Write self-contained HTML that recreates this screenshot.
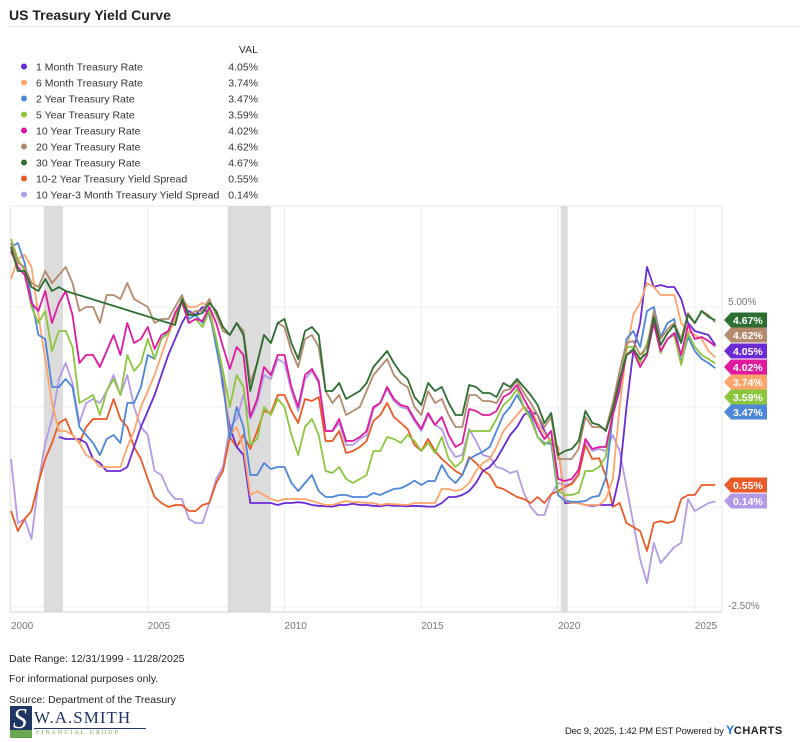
<!DOCTYPE html>
<html><head><meta charset="utf-8"><style>
body{margin:0;background:#fff;font-family:"Liberation Sans",sans-serif;}
#wrap{position:relative;width:800px;height:742px;overflow:hidden;background:#fff;}
.t{position:absolute;white-space:nowrap;color:#222;}
</style></head><body>
<div id="wrap">
<div class="t" style="left:9px;top:7px;font-size:14px;font-weight:bold;">US Treasury Yield Curve</div>
<div style="position:absolute;left:9px;top:26px;width:791px;height:1px;background:#e6e6e6"></div>
<svg id="chart" width="800" height="742" style="position:absolute;left:0;top:0"></svg>
<div class="t" style="left:9px;top:653px;font-size:10.5px;">Date Range: 12/31/1999 - 11/28/2025</div>
<div class="t" style="left:9px;top:673px;font-size:10.5px;">For informational purposes only.</div>
<div class="t" style="left:9px;top:694px;font-size:10.5px;">Source: Department of the Treasury</div>
<div style="position:absolute;left:10px;top:706px;width:136px;height:32px">
 <div style="position:absolute;left:0;top:0;width:22px;height:30px;background:#1f3563"></div>
 <div style="position:absolute;left:0;top:24px;width:22px;height:8px;background:#6aa84f"></div>
 <div class="t" style="left:3px;top:-2px;font-family:'Liberation Serif',serif;font-size:28px;color:#fff;font-style:italic">S</div>
 <div class="t" style="left:24px;top:2px;font-family:'Liberation Serif',serif;font-size:17px;color:#1f3563;letter-spacing:1px">W.A.SMITH</div>
 <div style="position:absolute;left:24px;top:22px;width:112px;height:1px;background:#1f3563"></div>
 <div class="t" style="left:26px;top:24px;font-family:'Liberation Serif',serif;font-size:6px;color:#6aa84f;letter-spacing:2px">FINANCIAL GROUP</div>
</div>
<div class="t" style="left:565px;top:723px;font-size:9.5px;letter-spacing:-0.2px">Dec 9, 2025, 1:42 PM EST Powered by <b style="color:#1a73e8;font-size:12px">Y</b><b style="font-size:11px;letter-spacing:0.5px;color:#222">CHARTS</b></div>
</div>
<script>
const names=["1 Month Treasury Rate","6 Month Treasury Rate","2 Year Treasury Rate","5 Year Treasury Rate","10 Year Treasury Rate","20 Year Treasury Rate","30 Year Treasury Rate","10-2 Year Treasury Yield Spread","10 Year-3 Month Treasury Yield Spread"];
const colors=["#6a2bd6","#ffa46a","#4e86d8","#8cc63f","#e0199f","#b48a6e","#2d6e33","#ea5a26","#b39ae6"];
const latest=[4.05,3.74,3.47,3.59,4.02,4.62,4.67,0.55,0.14];
const yTicks=[5.0,-2.5];
const xTickYears=[2000,2005,2010,2015,2020,2025];
const recessions=[[2001.2,2001.9],[2007.92,2009.5],[2020.1,2020.35]];
const startYear=2000;
const m1=[null,null,null,null, null,null,null,1.75, 1.7,1.7,1.7,1.6, 1.2,1.1,0.9,0.9, 0.9,1.0,1.5,2.0, 2.4,2.8,3.3,3.8, 4.2,4.6,4.9,4.8, 5.0,4.8,4.2,3.0, 2.0,1.5,1.3,0.1, 0.1,0.1,0.1,0.05, 0.1,0.1,0.12,0.1, 0.05,0.03,0.02,0.01, 0.05,0.05,0.08,0.05, 0.05,0.03,0.02,0.05, 0.03,0.03,0.02,0.03, 0.02,0.01,0.01,0.1, 0.25,0.25,0.3,0.4, 0.6,0.9,1.0,1.2, 1.5,1.8,2.0,2.3, 2.4,2.3,1.9,1.6, 1.5,0.1,0.1,0.1, 0.05,0.03,0.05,0.05, 0.05,0.8,2.5,3.9, 4.6,6.0,5.5,5.55, 5.5,5.5,5.2,4.6, 4.4,4.35,4.3,4.05];
const m6=[5.7,6.2,6.3,6.0, 4.8,3.7,2.6,1.9, 1.9,1.8,1.6,1.3, 1.2,1.0,1.0,1.0, 1.0,1.5,1.9,2.5, 2.9,3.3,3.8,4.3, 4.7,5.2,5.0,5.0, 5.1,5.0,4.2,3.3, 1.8,2.0,1.5,0.3, 0.4,0.3,0.2,0.15, 0.2,0.2,0.2,0.2, 0.15,0.1,0.05,0.05, 0.1,0.15,0.12,0.12, 0.1,0.1,0.05,0.08, 0.07,0.06,0.05,0.1, 0.1,0.1,0.1,0.45, 0.45,0.4,0.45,0.6, 0.9,1.1,1.2,1.5, 1.9,2.1,2.3,2.5, 2.45,2.1,1.85,1.6, 1.5,0.15,0.1,0.09, 0.05,0.05,0.05,0.2, 0.7,2.5,3.9,4.8, 5.1,5.6,5.5,5.3, 5.3,5.3,4.6,4.4, 4.3,4.2,3.9,3.74];
const y2=[6.5,6.6,6.1,5.2, 4.3,4.2,3.0,3.0, 3.2,3.0,2.0,1.8, 1.6,1.3,1.7,1.8, 1.6,2.6,2.6,3.0, 3.8,3.7,4.2,4.4, 4.8,5.1,4.7,4.8, 4.6,4.9,4.0,3.1, 1.7,2.5,2.0,0.8, 0.8,1.1,0.95,1.0, 1.0,0.6,0.4,0.6, 0.8,0.4,0.25,0.25, 0.3,0.3,0.25,0.25, 0.25,0.35,0.3,0.38, 0.45,0.47,0.55,0.66, 0.55,0.65,0.65,1.05, 0.75,0.6,0.8,1.2, 1.3,1.38,1.5,1.9, 2.3,2.5,2.8,2.5, 2.3,1.75,1.6,1.58, 0.3,0.16,0.13,0.13, 0.15,0.25,0.28,0.73, 2.3,2.9,4.2,4.4, 4.0,4.9,5.0,4.25, 4.6,4.7,3.6,4.25, 3.9,3.7,3.6,3.47];
const y5=[6.7,6.2,5.9,5.0, 4.6,4.9,3.9,4.4, 4.4,4.0,2.6,2.7, 2.8,2.3,2.9,3.2, 2.8,3.8,3.4,3.6, 4.2,3.7,4.2,4.35, 4.8,5.1,4.6,4.7, 4.5,4.9,4.2,3.4, 2.5,3.3,3.0,1.55, 1.7,2.5,2.3,2.7, 2.5,1.8,1.3,2.0, 2.2,1.8,0.9,0.85, 1.0,0.7,0.6,0.7, 0.8,1.4,1.4,1.75, 1.7,1.6,1.8,1.65, 1.4,1.6,1.35,1.75, 1.2,1.0,1.15,1.9, 1.9,1.9,1.9,2.2, 2.55,2.7,2.95,2.5, 2.2,1.75,1.55,1.7, 0.4,0.3,0.3,0.36, 0.9,0.9,1.0,1.26, 2.4,3.0,4.0,4.0, 3.6,4.1,4.6,3.85, 4.2,4.3,3.55,4.35, 4.0,3.8,3.7,3.59];
const y10=[6.4,6.0,5.8,5.1, 4.9,5.4,4.6,5.1, 5.4,4.8,3.6,3.8, 3.8,3.5,3.9,4.3, 3.8,4.6,4.1,4.2, 4.5,3.95,4.3,4.4, 4.85,5.15,4.6,4.7, 4.65,5.0,4.6,4.0, 3.45,4.0,3.8,2.25, 2.7,3.5,3.3,3.8, 3.8,3.0,2.5,3.3, 3.45,3.15,1.9,1.9, 2.2,1.65,1.65,1.75, 1.9,2.5,2.6,3.0, 2.7,2.55,2.5,2.2, 1.95,2.35,2.05,2.25, 1.8,1.5,1.6,2.45, 2.4,2.3,2.3,2.4, 2.75,2.85,3.05,2.7, 2.4,2.0,1.7,1.9, 0.7,0.65,0.7,0.93, 1.7,1.45,1.5,1.5, 2.3,3.0,3.8,3.9, 3.5,3.8,4.6,3.9, 4.2,4.35,3.8,4.55, 4.2,4.25,4.15,4.02];
const y20=[6.6,6.1,6.0,5.6, 5.5,5.9,5.6,5.8, 6.0,5.6,4.9,5.0, 5.0,4.6,5.3,5.3, 5.2,5.6,5.2,5.1, 5.0,4.6,4.7,4.7, 5.0,5.3,4.8,4.9, 4.9,5.2,4.8,4.4, 4.3,4.6,4.4,3.1, 3.6,4.3,4.1,4.6, 4.5,3.9,3.5,4.2, 4.3,4.0,2.9,2.6, 2.8,2.3,2.4,2.5, 2.9,3.3,3.5,3.7, 3.3,3.1,3.0,2.5, 2.3,2.9,2.6,2.7, 2.3,2.0,2.0,2.8, 2.8,2.65,2.65,2.6, 2.9,2.95,3.15,2.85, 2.6,2.3,2.0,2.25, 1.2,1.2,1.2,1.45, 2.25,2.0,2.0,1.95, 2.6,3.4,4.1,4.15, 3.8,4.0,4.9,4.2, 4.45,4.6,4.2,4.85, 4.6,4.9,4.8,4.62];
const y30=[6.5,5.9,5.9,5.5, 5.4,5.7,5.4,5.5, 5.4,null,null,null, null,null,null,null, null,null,null,null, null,null,null,null, 4.55,5.2,4.8,4.8, 4.85,5.1,4.9,4.5, 4.3,4.6,4.3,2.9, 3.6,4.3,4.1,4.6, 4.7,4.1,3.7,4.4, 4.5,4.3,2.9,2.9, 3.1,2.7,2.8,2.9, 3.1,3.5,3.7,3.9, 3.6,3.35,3.2,2.75, 2.55,3.1,2.9,3.0, 2.6,2.3,2.3,3.05, 3.0,2.85,2.85,2.75, 3.1,3.0,3.2,3.0, 2.8,2.55,2.1,2.35, 1.3,1.4,1.45,1.65, 2.4,2.1,2.05,1.9, 2.45,3.2,3.8,3.95, 3.7,3.85,4.75,4.05, 4.35,4.55,4.1,4.8, 4.6,4.9,4.75,4.67];
const s102=[-0.1,-0.6,-0.3,-0.1, 0.6,1.2,1.6,2.1, 2.2,1.8,1.6,2.0, 2.2,2.2,2.2,2.7, 2.2,2.0,1.5,1.2, 0.7,0.25,0.1,0.0, 0.05,0.05,-0.1,-0.1, 0.05,0.1,0.6,0.9, 1.75,1.5,1.8,1.45, 1.9,2.4,2.35,2.8, 2.8,2.4,2.1,2.7, 2.65,2.75,1.65,1.65, 1.9,1.35,1.4,1.5, 1.65,2.15,2.3,2.6, 2.25,2.1,1.95,1.55, 1.4,1.7,1.4,1.2, 1.05,0.9,0.8,1.25, 1.1,0.92,0.8,0.5, 0.45,0.35,0.25,0.2, 0.1,0.25,0.1,0.32, 0.4,0.5,0.57,0.8, 1.55,1.2,1.22,0.77, 0.0,0.1,-0.4,-0.5, -0.6,-1.1,-0.4,-0.35, -0.4,-0.35,0.2,0.3, 0.3,0.55,0.55,0.55];
const s103m=[1.2,-0.4,-0.3,-0.8, 0.6,1.6,2.2,3.2, 3.6,3.1,2.1,2.6, 2.7,2.6,2.9,3.3, 2.8,3.3,2.5,2.0, 1.8,0.9,0.8,0.4, 0.2,0.2,-0.3,-0.4, -0.4,0.1,0.7,1.0, 2.0,2.2,2.8,2.2, 2.6,3.3,3.2,3.7, 3.6,2.9,2.4,3.2, 3.4,3.1,1.9,1.9, 2.1,1.55,1.55,1.7, 1.8,2.45,2.6,2.95, 2.65,2.5,2.45,2.15, 1.9,2.3,2.05,1.95, 1.5,1.25,1.3,1.95, 1.65,1.3,1.25,1.0, 0.95,0.85,0.9,0.35, 0.0,-0.2,-0.2,0.3, 0.6,0.55,0.6,0.85, 1.65,1.4,1.45,1.4, 1.8,1.4,0.5,-0.4, -1.3,-1.9,-0.9,-1.4, -1.2,-1.0,-0.9,0.2, -0.1,0.0,0.1,0.14];
const series=[m1,m6,y2,y5,y10,y20,y30,s102,s103m];

const NS="http://www.w3.org/2000/svg";
const svg=document.getElementById('chart');
function mk(tag,attrs,parent){const e=document.createElementNS(NS,tag);for(const k in attrs)e.setAttribute(k,attrs[k]);(parent||svg).appendChild(e);return e;}
const P={l:10,r:722,t:206,b:612};
const xMin=2000,xMax=2025.92,xL=11,xR=720;
function X(t){return xL+(t-xMin)/(xMax-xMin)*(xR-xL);}
function Y(v){return 507-v*40;}

const frame=mk('rect',{x:P.l,y:P.t,width:P.r-P.l,height:P.b-P.t,fill:'#fff',stroke:'#e8e8e8'});


[5,2.5,0,-2.5].forEach(v=>{const g=mk('line',{x1:P.l,x2:P.r,y1:Y(v),y2:Y(v),stroke:'#ececec'});

});
xTickYears.forEach(yr=>{const x=X(yr);
const g=mk('line',{x1:x,x2:x,y1:P.t,y2:P.b,stroke:'#ececec'});


const tx=mk('text',{x:x,y:P.b+17,'font-size':10,fill:'#777','font-family':'Liberation Sans, sans-serif'});tx.textContent=yr;

});
recessions.forEach(r=>{const b=mk('rect',{x:X(r[0]),y:P.t,width:X(r[1])-X(r[0]),height:P.b-P.t,fill:'#dcdcdc'});

});
yTicks.forEach(v=>{const tx=mk('text',{x:728,y:Y(v)+(v<0?2:-2),'font-size':10,fill:'#777','font-family':'Liberation Sans, sans-serif'});tx.textContent=v.toFixed(2)+'%';

});
mk('line',{x1:P.l,x2:P.r,y1:P.b,y2:P.b,stroke:'#d0d0d0'});
const order=[8,7,0,1,2,3,4,5,6];
order.forEach(si=>{const d=series[si];let pts=[];
d.forEach((v,i)=>{if(v!==null)pts.push(X(startYear+i/4).toFixed(1)+','+Y(v).toFixed(1));});
const pl=mk('polyline',{points:pts.join(' '),fill:'none',stroke:colors[si],'stroke-width':1.8,'stroke-linejoin':'round'});

});
const flagOrder=[6,5,0,4,1,3,2,7,8];
const flagY=[320,335,351,367,382,397,412,485,501];
flagOrder.forEach((si,k)=>{const y=flagY[k];
const g=mk('g',{});


mk('path',{d:`M724,${y} L731,${y-7.5} L767,${y-7.5} L767,${y+7.5} L731,${y+7.5} Z`,fill:colors[si]},g);
const t=mk('text',{x:733,y:y+4,'font-size':10.5,fill:'#fff','font-weight':'bold','font-family':'Liberation Sans, sans-serif'},g);
t.textContent=latest[si].toFixed(2)+'%';});
const vh=mk('text',{x:258,y:53,'font-size':10.5,fill:'#333','text-anchor':'end','font-family':'Liberation Sans, sans-serif'});vh.textContent='VAL';


names.forEach((n,i)=>{const y=67+i*16;
const g=mk('g',{});


mk('circle',{cx:24,cy:y-0.5,r:3,fill:colors[i]},g);
const t=mk('text',{x:36,y:y+3.5,'font-size':10.5,fill:'#333','font-family':'Liberation Sans, sans-serif'},g);t.textContent=n;
const v=mk('text',{x:258,y:y+3.5,'font-size':10.5,fill:'#333','text-anchor':'end','font-family':'Liberation Sans, sans-serif'},g);v.textContent=latest[i].toFixed(2)+'%';});
</script>
</body></html>
